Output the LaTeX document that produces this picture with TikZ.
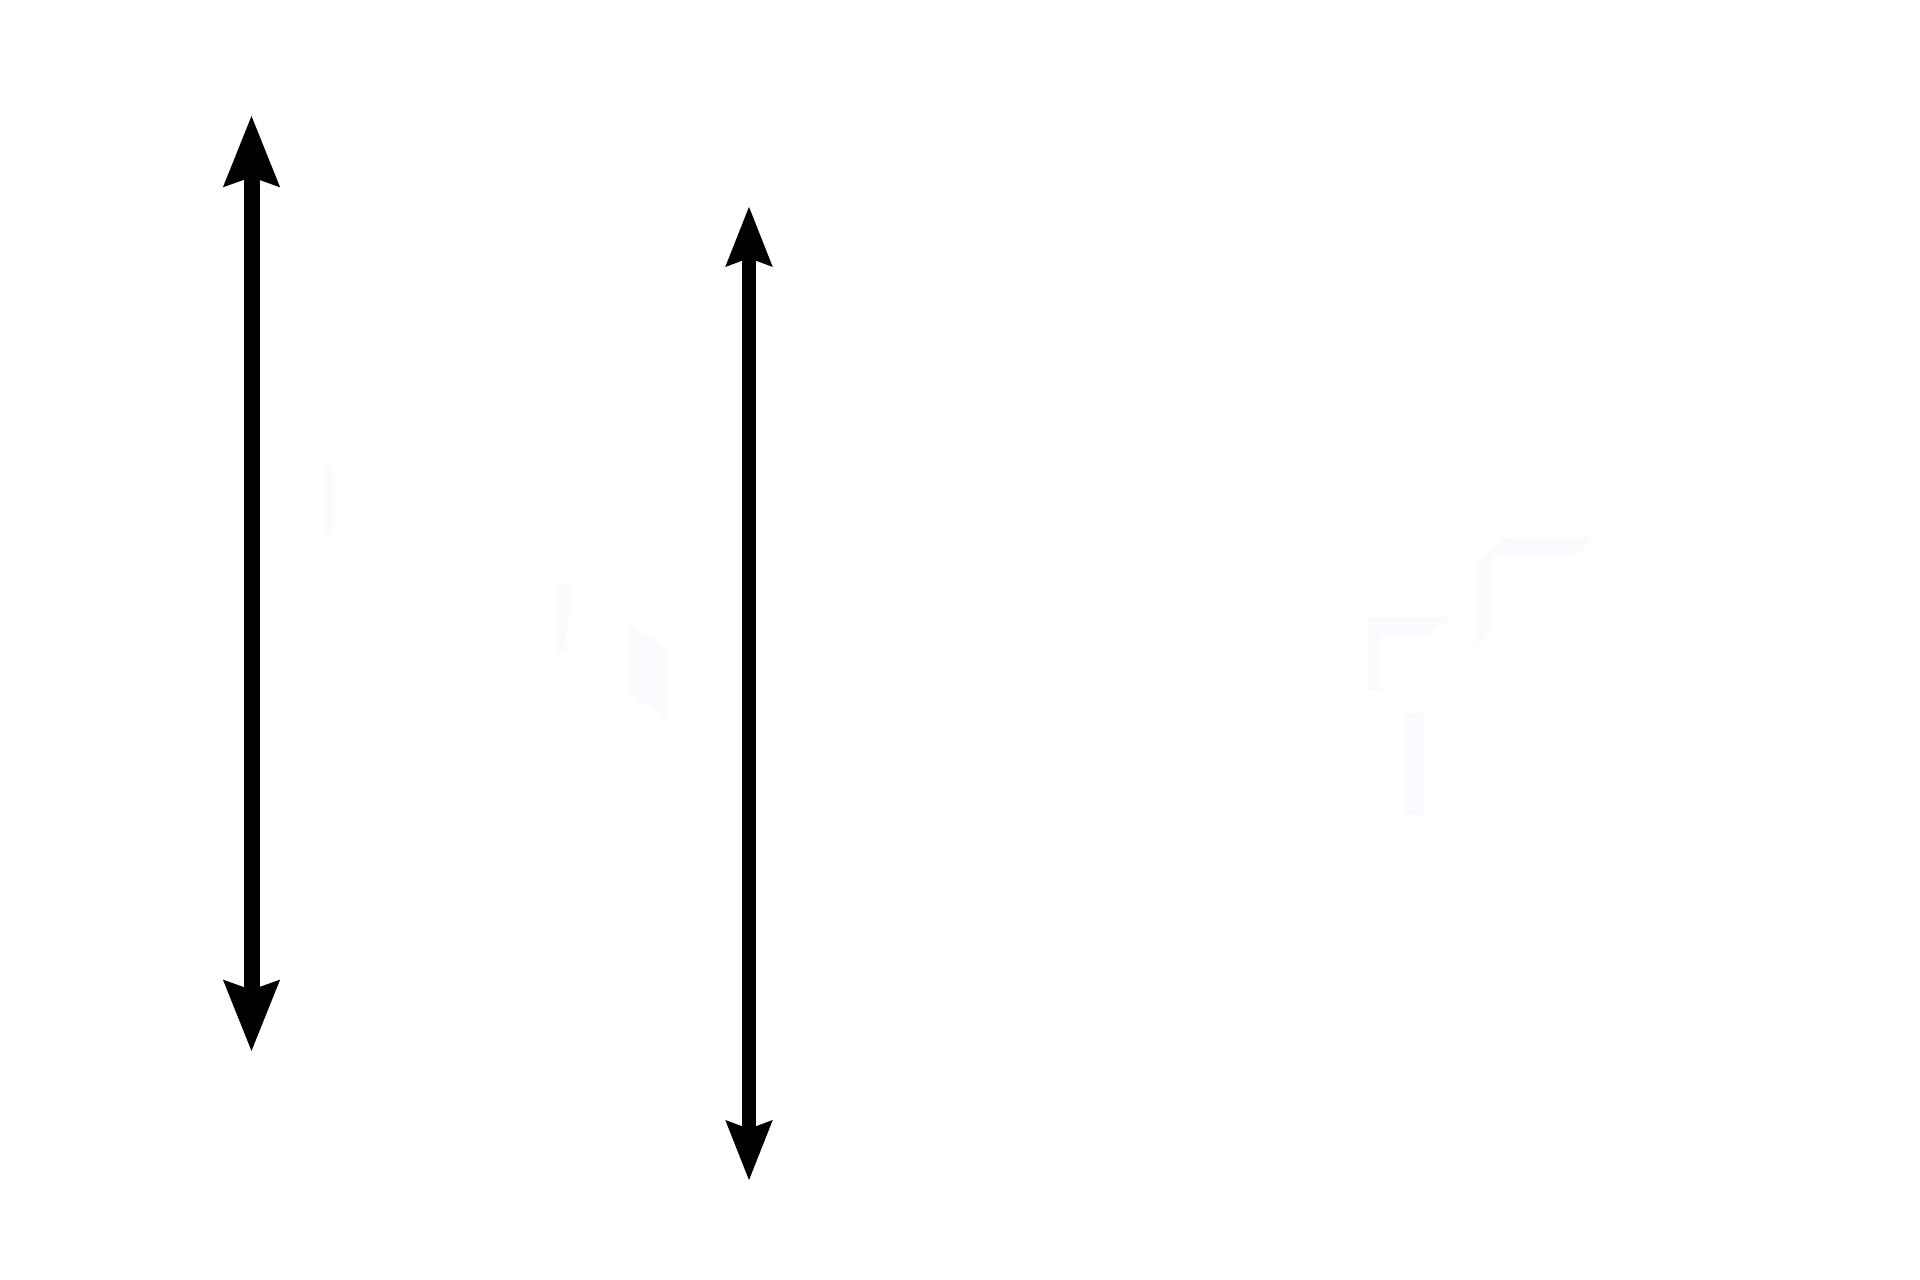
\documentclass[tikz,border=0pt]{standalone}
\usetikzlibrary{arrows.meta}
\definecolor{ghost}{RGB}{251,251,255}

\begin{document}
\begin{tikzpicture}[x=1cm, y=1cm]
    \useasboundingbox[fill=white] (0,0) rectangle (19.2,12.8);

    % faint shapes
    \begin{scope}[fill=ghost]
        \fill (3.23,8.16) -- (3.33,8.12) -- (3.33,7.44) -- (3.23,7.46) -- cycle;
        \fill (5.57,6.98) -- (5.72,6.90) -- (5.65,6.27) -- (5.57,6.30) -- cycle;
        \fill (6.28,6.55) -- (6.67,6.32) -- (6.67,5.63) -- (6.28,5.88) -- cycle;
        \fill (14.75,7.17) -- (15.07,7.42) -- (15.95,7.42) -- (15.75,7.25)
            -- (14.92,7.25) -- (14.92,6.50) -- (14.75,6.33) -- cycle;
        \fill (13.68,6.63) -- (14.52,6.63) -- (14.25,6.45) -- (13.80,6.45)
            -- (13.80,5.90) -- (13.68,5.90) -- cycle;
        \fill (14.05,5.67) rectangle (14.23,4.65);
    \end{scope}

    % double arrows
    \coordinate (a1top) at (2.515,11.65);
    \coordinate (a1bot) at (2.515,2.28);
    \coordinate (a2top) at (7.49,10.74);
    \coordinate (a2bot) at (7.49,0.99);

    \draw[line width=0.16cm, {Stealth[length=0.70cm, width=0.53cm, inset=0.08cm]}-{Stealth[length=0.70cm, width=0.53cm, inset=0.08cm]}] (a1top) -- (a1bot);
    \draw[line width=0.145cm, {Stealth[length=0.59cm, width=0.44cm, inset=0.07cm]}-{Stealth[length=0.59cm, width=0.44cm, inset=0.07cm]}] (a2top) -- (a2bot);
\end{tikzpicture}
\end{document}
